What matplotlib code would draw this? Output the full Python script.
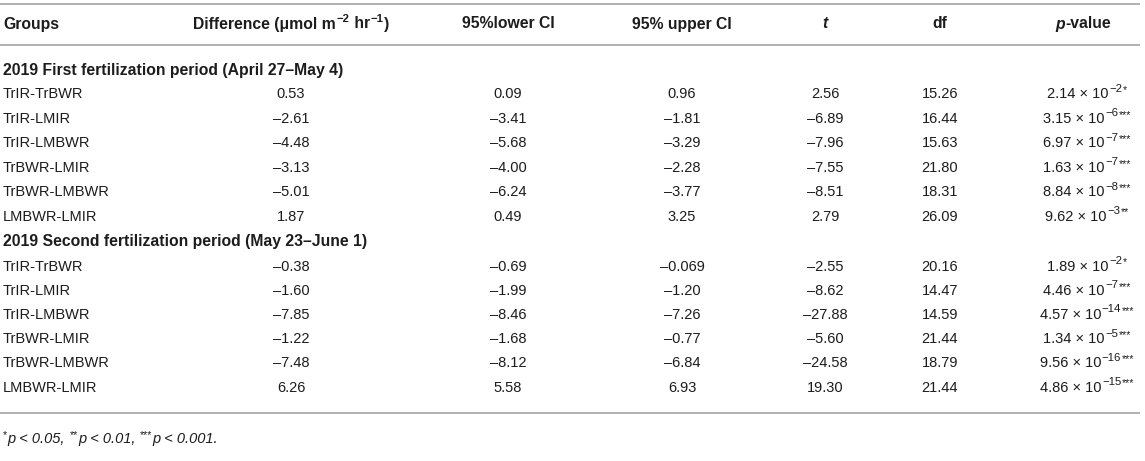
import matplotlib
matplotlib.use("Agg")
import matplotlib.pyplot as plt

plt.rcParams['font.family'] = ['Liberation Sans', 'DejaVu Sans']

# table contents
headers = ['Groups', 'Difference', '95%lower CI', '95% upper CI', 't', 'df', 'p-value']
diff_unit = ['(\u03bcmol m', '\u22122', ' hr', '\u22121', ')']
periods = ['2019 First fertilization period (April 27\u2013May 4)',
           '2019 Second fertilization period (May 23\u2013June 1)']
groups = ['TrIR-TrBWR', 'TrIR-LMIR', 'TrIR-LMBWR', 'TrBWR-LMIR', 'TrBWR-LMBWR', 'LMBWR-LMIR']

diff_1 = ['0.53', '\u20132.61', '\u20134.48', '\u20133.13', '\u20135.01', '1.87']
lower_1 = ['0.09', '\u20133.41', '\u20135.68', '\u20134.00', '\u20136.24', '0.49']
upper_1 = ['0.96', '\u20131.81', '\u20133.29', '\u20132.28', '\u20133.77', '3.25']
t_1 = ['2.56', '\u20136.89', '\u20137.96', '\u20137.55', '\u20138.51', '2.79']
df_1 = ['15.26', '16.44', '15.63', '21.80', '18.31', '26.09']
p_man_1 = ['2.14', '3.15', '6.97', '1.63', '8.84', '9.62']
p_exp_1 = ['\u22122', '\u22126', '\u22127', '\u22127', '\u22128', '\u22123']
stars_1 = ['*', '***', '***', '***', '***', '**']

diff_2 = ['\u20130.38', '\u20131.60', '\u20137.85', '\u20131.22', '\u20137.48', '6.26']
lower_2 = ['\u20130.69', '\u20131.99', '\u20138.46', '\u20131.68', '\u20138.12', '5.58']
upper_2 = ['\u20130.069', '\u20131.20', '\u20137.26', '\u20130.77', '\u20136.84', '6.93']
t_2 = ['\u20132.55', '\u20138.62', '\u201327.88', '\u20135.60', '\u201324.58', '19.30']
df_2 = ['20.16', '14.47', '14.59', '21.44', '18.79', '21.44']
p_man_2 = ['1.89', '4.46', '4.57', '1.34', '9.56', '4.86']
p_exp_2 = ['\u22122', '\u22127', '\u221214', '\u22125', '\u221216', '\u221215']
stars_2 = ['*', '***', '***', '***', '***', '***']

foot_stars = ['*', '**', '***']
foot_text = ['p < 0.05, ', 'p < 0.01, ', 'p < 0.001.']

W, H = 1145, 461
fig = plt.figure(figsize=(W / 100, H / 100), dpi=100)
ax = fig.add_axes([0, 0, 1, 1])
ax.set_xlim(0, W)
ax.set_ylim(H, 0)
ax.axis('off')
renderer = fig.canvas.get_renderer()

col_x = [3, 291, 508, 682, 825, 940, 1087]
fs = 10.5
fs_b = 11.3
tc = '#1c1c1c'
lc = '#b0b0b0'


def width(t):
    return t.get_window_extent(renderer).width


def pieces(parts, x, y, align='center', gap=0.0):
    # parts: list of (text, dy, kwargs); laid out left to right
    objs = [ax.text(0, y + dy, s, ha='left', va='center', color=tc, **kw)
            for s, dy, kw in parts]
    ws = [width(o) for o in objs]
    total = sum(ws) + gap * (len(ws) - 1)
    x0 = x - total / 2 if align == 'center' else x
    for o, w in zip(objs, ws):
        o.set_x(x0)
        x0 += w + gap


for yy in (4.5, 45, 413):
    ax.plot([0, 1140], [yy, yy], color=lc, lw=1.4, solid_capstyle='butt')

hy = 24
bold = dict(fontsize=fs_b, fontweight='bold')
bold_sup = dict(fontsize=fs_b * 0.72, fontweight='bold')
ax.text(col_x[0], hy, headers[0], ha='left', va='center', color=tc, **bold)
pieces([(headers[1] + ' ' + diff_unit[0], 0, bold), (diff_unit[1], -5, bold_sup),
        (diff_unit[2], 0, bold), (diff_unit[3], -5, bold_sup),
        (diff_unit[4], 0, bold)], col_x[1], hy, gap=0.5)
for i in (2, 3, 5):
    ax.text(col_x[i], hy, headers[i], ha='center', va='center', color=tc, **bold)
ax.text(col_x[4], hy, headers[4], ha='center', va='center', style='italic',
        color=tc, **bold)
pieces([(headers[6][0], 0, dict(style='italic', **bold)),
        (headers[6][1:], 0, bold)], 1083, hy)


def block(y_title, y0, dy, title, cols):
    ax.text(col_x[0], y_title, title, ha='left', va='center', color=tc, **bold)
    diff, lower, upper, tv, dfv, pm, pe, st = cols
    for r in range(len(groups)):
        y = y0 + dy * r
        cells = [groups[r], diff[r], lower[r], upper[r], tv[r], dfv[r]]
        for i, c in enumerate(cells):
            ax.text(col_x[i], y, c, ha='left' if i == 0 else 'center',
                    va='center', fontsize=fs, color=tc)
        pieces([(pm[r] + ' \u00d7 10', 0, dict(fontsize=fs)),
                (pe[r], -5.5, dict(fontsize=fs * 0.78)),
                (st[r], -4.0, dict(fontsize=fs * 0.72))], col_x[6], y, gap=0.6)


block(70, 94.5, 24.4, periods[0],
      (diff_1, lower_1, upper_1, t_1, df_1, p_man_1, p_exp_1, stars_1))
block(241.5, 266.5, 24.2, periods[1],
      (diff_2, lower_2, upper_2, t_2, df_2, p_man_2, p_exp_2, stars_2))

parts = []
for s, t in zip(foot_stars, foot_text):
    parts.append((s, -3.5, dict(fontsize=fs * 0.72)))
    parts.append((t, 0, dict(fontsize=fs, style='italic')))
pieces(parts, col_x[0], 439, align='left', gap=0.3)

fig.savefig('out.png', dpi=100)
